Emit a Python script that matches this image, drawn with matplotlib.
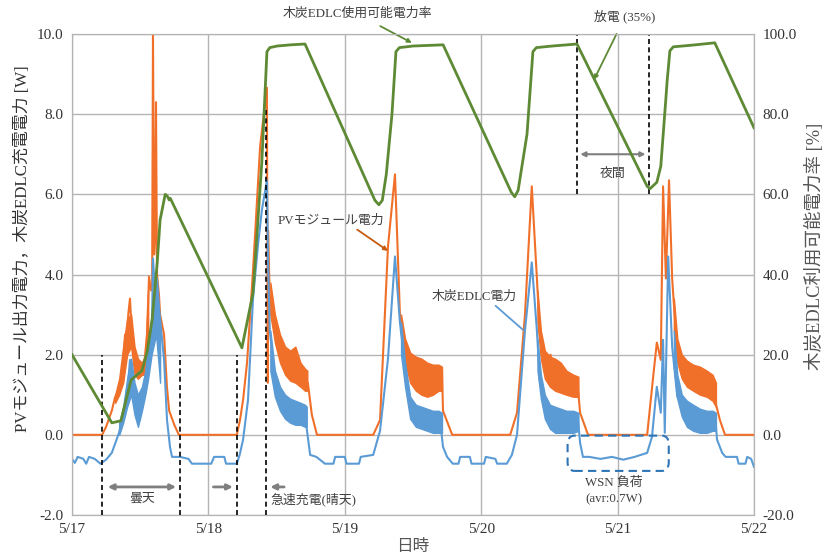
import numpy as np
import matplotlib
matplotlib.use("Agg")
import matplotlib.pyplot as plt
from matplotlib.patches import FancyBboxPatch

plt.rcParams["font.family"] = ["Liberation Serif", "Noto Sans CJK JP"]

# time in hours from 5/17 00:00
day_labels = ["5/17", "5/18", "5/19", "5/20", "5/21", "5/22"]

pv_t = [0, 5.3, 6.0, 7.0, 7.6, 8.2, 8.8, 9.1, 9.33, 9.6, 9.9, 10.2, 10.5, 10.9, 11.4, 11.8,
        12.3, 12.7, 13.2, 13.55, 13.9, 14.1, 14.25, 14.45, 14.6, 14.78, 14.96, 15.3, 15.5,
        16.2, 16.7, 17.1, 18.0, 18.8,
        29.0, 29.56, 30.1, 30.8, 31.85, 33.1, 34.3, 34.45, 34.5, 34.8, 35.7, 36.2, 36.5,
        36.9, 37.2, 37.5, 37.8, 38.0, 38.36, 38.7, 39.0, 39.4, 39.77, 40.3, 40.6, 41.0, 41.5,
        42.2, 43.1,
        53.0, 54.2, 55.6, 56.83, 57.7, 58.6, 59.0, 59.5, 59.9, 60.3, 60.8, 61.2, 61.7, 62.1,
        62.5, 63.0, 63.5, 64.0, 64.5, 65.1, 65.28, 66.9,
        77.1, 78.3, 79.7, 80.9, 81.8, 82.3, 83.2, 83.7, 84.2, 84.6, 85.0, 85.5, 86.0, 86.7,
        87.3, 88.0, 88.5, 89.0, 89.4, 90.8,
        101.2, 102.2, 102.9, 103.6, 104.0, 104.5, 105.05, 105.6, 106.5, 107.0, 107.5, 108.2,
        108.8, 109.4, 110.0, 110.5, 111.2, 112.0, 112.8, 114.0, 114.9, 120]
pv_w = [0, 0, 0.2, 0.6, 0.95, 1.1, 1.37, 2.0, 2.5, 2.3, 3.0, 3.4, 2.6, 2.2, 1.6, 1.8,
        1.6, 1.75, 2.5, 3.95, 3.6, 3.7, 10.0, 4.5, 5.0, 8.3, 4.0, 3.5, 3.0,
        2.5, 1.2, 0.6, 0.25, 0,
        0, 0.37, 0.87, 1.8, 4.1, 7.2, 8.66, 1.3, 5.1, 3.4, 2.6, 2.3, 2.0,
        2.0, 1.7, 1.6, 2.0, 1.9, 1.8, 1.5, 1.7, 1.9, 1.85, 1.5, 1.6, 1.37, 1.3,
        0.5, 0,
        0, 0.37, 4.7, 6.5, 3.0, 2.2, 2.0, 1.95, 1.6, 1.7, 1.4, 1.6, 1.3, 1.5,
        1.37, 1.6, 1.5, 1.7, 1.5, 1.6, 0.6, 0,
        0, 0.55, 3.0, 6.2, 3.9, 2.6, 1.9, 1.7, 2.0, 1.6, 1.8, 1.5, 1.6, 1.37,
        1.5, 1.3, 1.4, 1.2, 0.55, 0,
        0, 1.37, 2.3, 1.87, 6.2, 3.9, 6.35, 3.9, 2.0, 1.8, 1.7, 1.55,
        1.6, 1.4, 1.5, 1.37, 1.3, 1.2, 1.05, 0.37, 0, 0]

# noisy daytime spread of the PV trace (read as upper / lower edges)
pv_band_t = [[7.6, 8.3, 9.0, 9.7, 10.4, 11.0, 11.6, 12.3, 12.9, 13.4],
             [34.9, 35.7, 36.6, 37.5, 38.4, 39.3, 40.2, 41.0, 41.4],
             [57.9, 58.6, 59.5, 60.5, 61.5, 62.5, 63.5, 64.5, 65.1],
             [81.9, 82.5, 83.2, 84.1, 85.0, 86.0, 87.0, 88.2, 89.1],
             [105.9, 106.5, 107.3, 108.2, 109.3, 110.5, 111.7, 112.7, 113.3]]
pv_band_hi = [[1.0, 1.4, 2.2, 2.9, 3.0, 2.2, 1.9, 1.8, 2.0, 3.6],
              [3.8, 3.0, 2.5, 2.2, 2.1, 2.2, 1.8, 1.65, 1.6],
              [3.0, 2.4, 2.05, 1.95, 1.9, 1.8, 1.75, 1.75, 1.7],
              [3.6, 2.6, 2.1, 1.95, 1.9, 1.8, 1.6, 1.5, 1.45],
              [3.4, 2.4, 2.0, 1.85, 1.75, 1.7, 1.6, 1.5, 1.3]]
pv_band_lo = [[0.8, 1.0, 1.3, 2.0, 2.2, 1.5, 1.4, 1.5, 1.5, 2.5],
              [3.0, 2.3, 1.8, 1.5, 1.35, 1.3, 1.2, 1.1, 1.1],
              [2.5, 1.8, 1.3, 1.1, 1.0, 0.95, 1.0, 1.1, 1.1],
              [2.8, 1.9, 1.4, 1.2, 1.1, 1.05, 1.0, 0.95, 0.95],
              [2.6, 1.8, 1.4, 1.2, 1.1, 1.0, 0.95, 0.85, 0.7]]

edlc_t = [0, 0.5, 1.0, 2.0, 2.5, 3.0, 4.0, 5.0, 6.0, 7.0, 8.27, 9.0, 9.68, 10.2, 10.9,
          11.44, 11.96, 12.2, 12.67, 13.2, 14.08, 14.25, 14.6, 14.96, 15.3, 16.2, 16.72,
          17.24, 17.6,
          19.0, 20.5, 21.1, 24.5, 25.0, 26.8, 27.1, 29.0, 29.5,
          30.1, 30.97, 31.85, 32.7, 33.4, 34.3, 34.5, 34.8, 35.7, 36.6, 37.3, 38.36, 39.2,
          40.1, 41.0, 41.35, 41.9,
          43.0, 44.5, 46.0, 46.3, 48.0, 48.3, 50.5, 50.8, 53.0,
          54.2, 55.6, 56.83, 57.7, 58.6, 59.5, 60.5, 61.2, 62.5, 63.5, 64.75, 65.28, 66.0,
          67.0, 68.0, 68.3, 70.0, 70.3, 72.5, 72.8, 74.5, 74.8, 76.5, 77.4,
          78.3, 79.7, 80.9, 81.8, 82.3, 83.2, 84.5, 85.9, 87.5, 89.0, 89.4, 89.9,
          91.0, 93.0, 95.0, 97.0, 99.0, 101.2,
          102.05, 102.9, 103.6, 104.0, 104.3, 104.9, 105.6, 106.5, 108.2, 110.0, 111.7,
          113.1, 113.5, 114.4, 115.0,
          117.0, 117.3, 118.5, 118.8, 119.5, 120]
edlc_w = [-0.6, -0.7, -0.55, -0.6, -0.72, -0.55, -0.6, -0.72, -0.62, -0.45, 0.05, 0.5,
          0.95, 1.87, 1.2, 0.7, 0.37, 0.9, 1.1, 1.7, 2.8, 4.4, 3.6, 3.9, 3.2, 1.87, 0.37,
          -0.3, -0.55,
          -0.55, -0.6, -0.72, -0.72, -0.55, -0.55, -0.72, -0.72, -0.5,
          -0.12, 0.87, 3.4, 4.7, 5.6, 6.35, 4.3, 2.6, 1.37, 0.95, 0.8, 0.62, 0.7,
          0.55, 0.55, 0.1, -0.5,
          -0.55, -0.72, -0.72, -0.55, -0.55, -0.72, -0.72, -0.55, -0.5,
          0.1, 1.9, 4.45, 2.8, 1.7, 0.7, 0.5, 0.37, 0.45, 0.35, 0.37, -0.3, -0.55,
          -0.72, -0.72, -0.55, -0.55, -0.72, -0.72, -0.55, -0.6, -0.72, -0.72, -0.5,
          0.0, 2.6, 4.3, 2.6, 1.37, 0.7, 0.5, 0.37, 0.45, 0.42, -0.2, -0.55,
          -0.55, -0.6, -0.55, -0.62, -0.55, -0.45,
          -0.05, 1.2, 0.55, 2.37, 0.05, 4.45, 2.2, 0.95, 0.55, 0.45, 0.37,
          0.55, -0.12, -0.45, -0.55,
          -0.55, -0.72, -0.72, -0.55, -0.6, -0.8]

edlc_band_t = [[8.3, 9.0, 9.7, 10.4, 11.0, 11.6, 12.3, 12.9, 13.4, 14.0, 14.8, 15.5],
               [34.9, 35.7, 36.6, 37.5, 38.4, 39.3, 40.2, 41.0, 41.3],
               [57.9, 58.6, 59.5, 60.5, 61.5, 62.5, 63.5, 64.5, 65.1],
               [81.9, 82.5, 83.2, 84.1, 85.0, 86.0, 87.0, 88.2, 89.1],
               [105.9, 106.5, 107.3, 108.2, 109.3, 110.5, 111.7, 112.7, 113.3]]
edlc_band_hi = [[0.3, 0.7, 1.4, 1.9, 1.3, 1.0, 1.2, 1.6, 2.2, 3.0, 3.9, 2.6],
                [2.6, 1.6, 1.2, 1.0, 0.9, 0.85, 0.8, 0.75, 0.7],
                [2.8, 1.8, 0.95, 0.75, 0.7, 0.65, 0.6, 0.6, 0.55],
                [2.4, 1.5, 1.0, 0.75, 0.7, 0.65, 0.6, 0.6, 0.55],
                [2.6, 1.5, 1.0, 0.85, 0.75, 0.65, 0.6, 0.6, 0.55]]
edlc_band_lo = [[0.0, 0.3, 0.7, 1.0, 0.5, 0.2, 0.6, 1.0, 1.4, 2.0, 2.5, 1.3],
                [1.6, 0.95, 0.6, 0.4, 0.3, 0.25, 0.25, 0.2, 0.2],
                [2.0, 1.2, 0.4, 0.2, 0.15, 0.1, 0.05, 0.05, 0.05],
                [1.6, 0.9, 0.4, 0.15, 0.05, 0.05, 0.05, 0.05, 0.1],
                [1.7, 0.9, 0.45, 0.2, 0.1, 0.05, 0.05, 0.1, 0.1]]

soc_t = [0, 7.0, 8.6, 10.4, 12.3, 13.2, 14.1, 15.0, 15.5, 16.4, 16.8, 17.1, 17.3,
         29.9, 31.85, 33.4, 34.3, 34.8, 36.1, 38.5, 41.0,
         53.3, 54.0, 54.6, 55.3, 56.3, 57.0, 57.6, 60.0, 65.3,
         77.3, 77.9, 78.5, 80.06, 81.1, 81.7, 84.5, 88.85,
         101.2, 101.7, 102.9, 103.6, 104.5, 104.7, 105.2, 105.8, 109.0, 113.1, 120]
soc_pct = [20, 3.0, 3.5, 13.7, 16, 20.5, 28.7, 43, 53.6, 60, 59.5, 58.6, 59,
           21.7, 35.4, 68, 95.6, 96.6, 97.0, 97.3, 97.5,
           58.5, 57.4, 58.5, 65, 80, 95.6, 96.6, 97.0, 97.3,
           60.5, 59.4, 61, 75, 95.6, 96.6, 97.0, 97.5,
           62, 61.4, 63, 67, 84, 88, 95.8, 96.8, 97.2, 97.8, 76.6]

fig = plt.figure(figsize=(8.25, 5.6), dpi=100)
ax = fig.add_axes([72 / 825, 45 / 560, 682 / 825, 481 / 560])
ax2 = ax.twinx()

grid_c = "#B4B4B4"
pv_c = "#F0702A"
edlc_c = "#5B9BD5"
soc_c = "#5E8A35"
ax.plot(pv_t, pv_w, color=pv_c, lw=1.5, zorder=3)
for t, lo, hi in zip(pv_band_t, pv_band_lo, pv_band_hi):
    ax.fill_between(t, lo, hi, color=pv_c, lw=1.0, ec=pv_c, zorder=3)
ax.plot(edlc_t, edlc_w, color=edlc_c, lw=1.5, zorder=4)
for t, lo, hi in zip(edlc_band_t, edlc_band_lo, edlc_band_hi):
    ax.fill_between(t, lo, hi, color=edlc_c, lw=1.0, ec=edlc_c, zorder=4)
ax2.plot(soc_t, soc_pct, color=soc_c, lw=2.0, zorder=3)

ax.set_xlim(0, 120)
ax.set_ylim(-2, 10)
ax2.set_ylim(-20, 100)
ax.set_xticks(np.arange(0, 121, 24))
ax.set_xticklabels(day_labels)
ax.set_yticks(np.arange(-2, 10.1, 2))
ax.set_yticklabels([f"{v:.1f}" for v in np.arange(-2, 10.1, 2)])
ax2.set_yticks(np.arange(-20, 100.1, 20))
ax2.set_yticklabels([f"{v:.1f}" for v in np.arange(-20, 100.1, 20)])
ax.grid(True, color=grid_c, lw=1.0)
ax.set_axisbelow(True)
for a in (ax, ax2):
    a.tick_params(length=0, labelsize=11, colors="#333333", pad=6)
    for s in a.spines.values():
        s.set_color(grid_c)

ax.set_ylabel("PVモジュール出力電力，木炭EDLC充電電力 [W]", fontsize=12.2, color="#333333",
              va="center", ha="center")
ax.yaxis.set_label_coords(-0.072, 0.553)
ax2.set_ylabel("木炭EDLC利用可能電力率 [%]", fontsize=13.3, color="#555555",
               va="center", ha="center")
ax2.yaxis.set_label_coords(1.089, 0.559)
ax.set_xlabel("日時", fontsize=12, color="#555555", labelpad=2)

# annotation lines
dash = dict(color="black", lw=1.2, ls=(0, (3, 2)), zorder=6)
for h in (5.28, 19.0, 29.0):
    ax.plot([h, h], [-2, 2.0], **dash)
ax.plot([34.1, 34.1], [-2, 8.15], **dash)
for h in (88.85, 101.5):
    ax.plot([h, h], [6.0, 10], **dash)

fs = 9.3
txt_c = "#404040"
arr_c = "#7F7F7F"
ax.annotate("", xy=(5.8, -1.3), xytext=(18.8, -1.3),
            arrowprops=dict(arrowstyle="<|-|>", color=arr_c, lw=2, mutation_scale=8))
ax.text(12.3, -1.6, "曇天", ha="center", va="center", fontsize=fs, color=txt_c)
ax.annotate("", xy=(28.8, -1.3), xytext=(24.4, -1.3),
            arrowprops=dict(arrowstyle="-|>", color=arr_c, lw=2, mutation_scale=8))
ax.annotate("", xy=(34.4, -1.3), xytext=(37.8, -1.3),
            arrowprops=dict(arrowstyle="-|>", color=arr_c, lw=2, mutation_scale=8))
ax.text(35.0, -1.6, "急速充電(晴天)", ha="left", va="center", fontsize=fs, color=txt_c)

ax.annotate("", xy=(88.95, 7.0), xytext=(101.4, 7.0),
            arrowprops=dict(arrowstyle="<|-|>", color=arr_c, lw=1.5, mutation_scale=7))
ax.text(95.2, 6.5, "夜間", ha="center", va="center", fontsize=fs, color=txt_c)

ax.annotate("放電 (35%)", xy=(91.85, 8.86), xytext=(97.3, 10.43), ha="center", va="center",
            fontsize=fs, color=txt_c, annotation_clip=False,
            arrowprops=dict(arrowstyle="-|>", color=soc_c, lw=1.3, mutation_scale=6,
                            shrinkA=6, shrinkB=0))
ax.annotate("木炭EDLC使用可能電力率", xy=(59.8, 9.78), xytext=(50.2, 10.5), ha="center",
            va="center", fontsize=fs, color=txt_c, annotation_clip=False,
            arrowprops=dict(arrowstyle="-|>", color=soc_c, lw=1.3, mutation_scale=6,
                            shrinkA=5, shrinkB=0))
ax.annotate("PVモジュール電力", xy=(55.6, 4.59), xytext=(36.1, 5.34), ha="left", va="center",
            fontsize=fs, color=txt_c,
            arrowprops=dict(arrowstyle="-|>", color="#C55A11", lw=1.3, mutation_scale=6,
                            shrinkA=0, shrinkB=0, relpos=(0.68, 0.2)))
ax.annotate("木炭EDLC電力", xy=(79.35, 2.62), xytext=(63.3, 3.44), ha="left", va="center",
            fontsize=fs, color=txt_c,
            arrowprops=dict(arrowstyle="-", color=edlc_c, lw=1.3,
                            shrinkA=0, shrinkB=0, relpos=(0.68, 0.2)))

box = FancyBboxPatch((87.2, -0.9), 17.8, 0.88, boxstyle="round,pad=0,rounding_size=1.2",
                     mutation_aspect=0.18, fill=False, ec="#2E75B6", lw=1.5,
                     ls=(0, (4, 2.5)), zorder=7)
ax.add_patch(box)
ax.text(95.4, -1.2, "WSN 負荷", ha="center", va="center", fontsize=fs, color=txt_c)
ax.text(95.4, -1.6, "(avr:0.7W)", ha="center", va="center", fontsize=fs, color=txt_c)

fig.savefig("out.png", dpi=100)
